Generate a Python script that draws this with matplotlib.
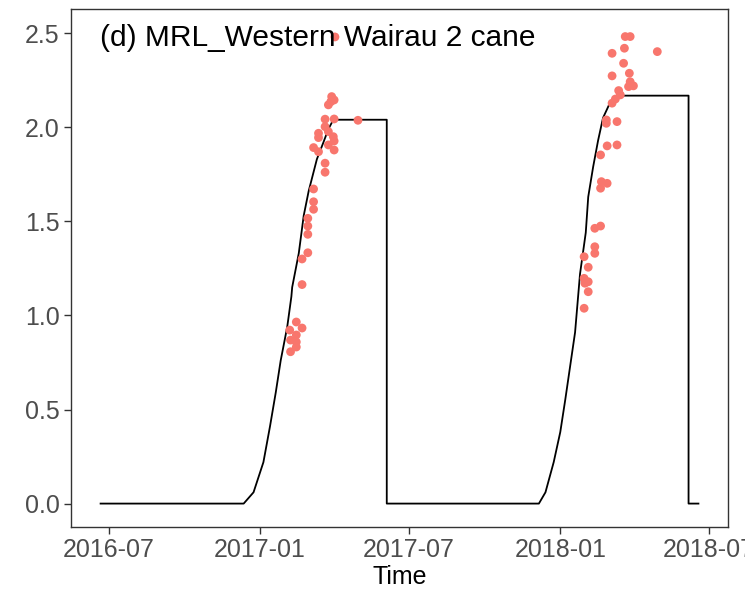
import matplotlib
matplotlib.use("Agg")
import matplotlib.pyplot as plt
import matplotlib.dates as mdates
import pandas as pd

plt.rcParams["font.family"] = ["Liberation Sans", "DejaVu Sans"]

# Modelled cane growth (black line), two seasons
line_dates = [
    "2016-06-21", "2016-12-12", "2016-12-24", "2017-01-05", "2017-01-13",
    "2017-01-20", "2017-01-26", "2017-02-03", "2017-02-08", "2017-02-09",
    "2017-02-17", "2017-02-23", "2017-03-01", "2017-03-11", "2017-03-19",
    "2017-03-25", "2017-03-31", "2017-06-04", "2017-06-04",
    "2017-12-06", "2017-12-14", "2017-12-24", "2018-01-01", "2018-01-07",
    "2018-01-13", "2018-01-19", "2018-01-25", "2018-02-01", "2018-02-04",
    "2018-02-10", "2018-02-16", "2018-02-22", "2018-03-03", "2018-03-13",
    "2018-06-06", "2018-06-06", "2018-06-18",
]
line_values = [
    0.0, 0.0, 0.06, 0.22, 0.41,
    0.59, 0.76, 0.94, 1.10, 1.15,
    1.33, 1.53, 1.66, 1.83, 1.92,
    1.99, 2.04, 2.04, 0.0,
    0.0, 0.06, 0.22, 0.38, 0.55,
    0.73, 0.91, 1.22, 1.44, 1.63,
    1.79, 1.93, 2.05, 2.135, 2.168,
    2.168, 0.0, 0.0,
]

# Observed values (points)
obs_dates = [
    "2017-04-02", "2017-03-29", "2017-04-01", "2017-03-28", "2017-03-25",
    "2017-03-21", "2017-04-01", "2017-04-30", "2017-03-21", "2017-03-13",
    "2017-03-13", "2017-03-25", "2017-03-31", "2017-04-01", "2017-03-25",
    "2017-03-07", "2017-03-13", "2017-04-01", "2017-03-21", "2017-03-21",
    "2017-03-07", "2017-03-07", "2017-03-07", "2017-02-28", "2017-02-28",
    "2017-02-28", "2017-02-28", "2017-02-21", "2017-02-21", "2017-02-14",
    "2017-02-06", "2017-02-21", "2017-02-14", "2017-02-07", "2017-02-14",
    "2017-02-14", "2017-02-07",
    "2018-02-27", "2018-03-11", "2018-02-19", "2018-02-20", "2018-02-27",
    "2018-02-19", "2018-02-12", "2018-02-19", "2018-02-12", "2018-02-12",
    "2018-01-30", "2018-02-04", "2018-01-30", "2018-02-04", "2018-01-31",
    "2018-02-04", "2018-01-30", "2018-03-21", "2018-03-27", "2018-03-20",
    "2018-03-05", "2018-04-29", "2018-03-19", "2018-03-05", "2018-03-26",
    "2018-03-27", "2018-03-31", "2018-03-25", "2018-03-13", "2018-03-15",
    "2018-03-09", "2018-03-05", "2018-02-26", "2018-02-26", "2018-03-11",
]
obs_values = [
    2.48, 2.163, 2.145, 2.136, 2.119,
    2.043, 2.044, 2.037, 2.003, 1.968,
    1.945, 1.977, 1.950, 1.927, 1.906,
    1.892, 1.870, 1.879, 1.809, 1.761,
    1.672, 1.604, 1.564, 1.516, 1.475,
    1.431, 1.333, 1.300, 1.164, 0.965,
    0.922, 0.933, 0.896, 0.869, 0.859,
    0.832, 0.807,
    1.901, 1.906, 1.853, 1.711, 1.702,
    1.676, 1.463, 1.475, 1.365, 1.330,
    1.312, 1.256, 1.197, 1.179, 1.171,
    1.126, 1.038, 2.482, 2.482, 2.420,
    2.393, 2.402, 2.340, 2.273, 2.287,
    2.242, 2.220, 2.216, 2.195, 2.172,
    2.150, 2.128, 2.039, 2.021, 2.030,
]

x_ticks = ["2016-07-01", "2017-01-01", "2017-07-01", "2018-01-01", "2018-07-01"]
y_ticks = [0.0, 0.5, 1.0, 1.5, 2.0, 2.5]
panel_label = "(d) MRL_Western Wairau 2 cane"

ld = pd.to_datetime(line_dates)
od = pd.to_datetime(obs_dates)

fig = plt.figure(figsize=(7.45, 5.91), dpi=100)
ax = fig.add_axes([0.0949, 0.1078, 0.8827, 0.8765])

ax.plot(ld, line_values, color="black", lw=1.3, zorder=2)
ax.scatter(od, obs_values, s=40, color="#F8766D", edgecolors="none", zorder=3)

# ggplot-style 5% expansion of the data range
x0, x1 = ld.min(), ld.max()
pad = (x1 - x0) * 0.05
ax.set_xlim(x0 - pad, x1 + pad)
ax.set_ylim(-0.126, 2.627)

ax.set_xticks(pd.to_datetime(x_ticks))
ax.xaxis.set_major_formatter(mdates.DateFormatter("%Y-%m"))
ax.set_yticks(y_ticks)
ax.set_yticklabels([f"{v:.1f}" for v in y_ticks])

ax.tick_params(axis="both", labelsize=18, colors="#333333", labelcolor="#4D4D4D",
               length=5, width=1.0, pad=3)
for sp in ax.spines.values():
    sp.set_color("#333333")
    sp.set_linewidth(1.0)

ax.set_xlabel("Time", fontsize=18, color="black", labelpad=2)
ax.text(pd.Timestamp("2016-06-20"), 2.475, panel_label, fontsize=21.5,
        color="black", va="center", ha="left")

fig.savefig("out.png", dpi=100)
